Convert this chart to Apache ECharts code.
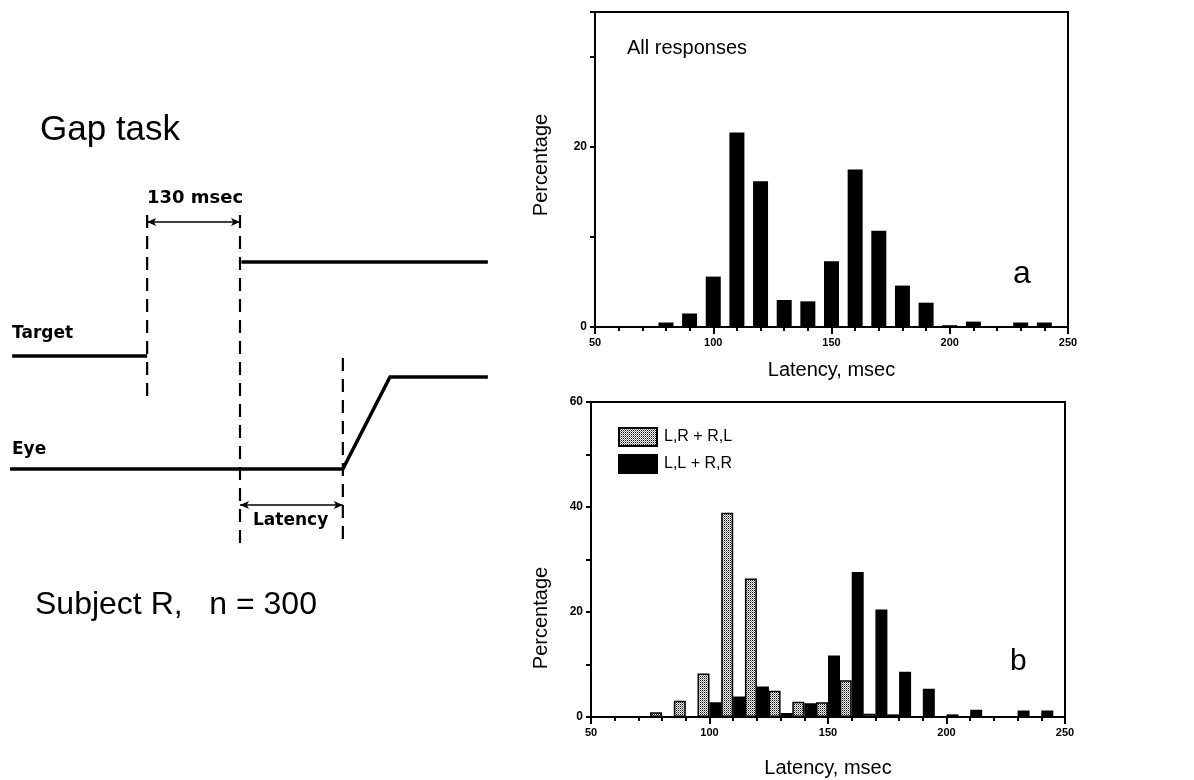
<!DOCTYPE html>
<html>
<head>
<meta charset="utf-8">
<script src="https://cdn.jsdelivr.net/npm/echarts@6/dist/echarts.min.js"></script>
<style>
html,body{margin:0;padding:0;background:#fff;}
#chart{width:1194px;height:780px;}
</style>
</head>
<body>
<div id="chart"></div>
<script>
// ---------- data ----------
const latencyBins = [80, 90, 100, 110, 120, 130, 140, 150, 160, 170, 180, 190, 200, 210, 220, 230, 240];
const allResponses = [0.5, 1.5, 5.6, 21.6, 16.2, 3.0, 2.85, 7.3, 17.5, 10.7, 4.6, 2.7, 0.2, 0.6, 0, 0.5, 0.5];
const crossedResponses = [0.9, 3.1, 8.3, 38.9, 26.4, 5.0, 2.9, 2.8, 7.0, 0.6, 0.5, 0, 0, 0, 0, 0, 0];
const uncrossedResponses = [0, 0, 2.8, 3.9, 5.8, 0.75, 2.6, 11.7, 27.6, 20.5, 8.6, 5.4, 0.5, 1.4, 0, 1.25, 1.25];
const seriesNames = ['L,R + R,L', 'L,L + R,R'];
const xTickLabels = [50, 100, 150, 200, 250];
const topYLabels = [0, 20];
const bottomYLabels = [0, 20, 40, 60];

// schematic (time in msec relative to fixation-off, position in arbitrary units)
const gapInterval = [0, 130];
const latencyInterval = [130, 274];
const targetOff = [[-189, 48.8], [0, 48.8]];
const targetOn = [[132, 67.6], [477, 67.6]];
const eyeTrace = [[-192, 26.2], [274, 26.2], [340, 44.6], [477, 44.6]];
const dashGapStart = [[0, 77], [0, 39.6]];
const dashTargetOn = [[130, 77], [130, 11]];
const dashSaccade = [[274, 48.4], [274, 10.6]];
const gapArrowLevel = 75.6;
const latencyArrowLevel = 19;

// ---------- pattern for stippled bars ----------
function makeStipple() {
  const c = document.createElement('canvas');
  c.width = 2; c.height = 2;
  const ctx = c.getContext('2d');
  ctx.fillStyle = '#f2f2f2';
  ctx.fillRect(0, 0, 2, 2);
  ctx.fillStyle = '#111';
  ctx.fillRect(0, 0, 1, 1);
  ctx.fillStyle = '#8a8a8a';
  ctx.fillRect(1, 1, 1, 1);
  return c;
}
const stipple = { image: makeStipple(), repeat: 'repeat' };

const FONT = '"Liberation Sans", Arial, sans-serif';
const BOLD = '"DejaVu Sans", sans-serif';

function xAxisCfg(gridIndex, gap) {
  return {
    type: 'value', gridIndex: gridIndex, min: 50, max: 250, interval: 50,
    name: 'Latency, msec', nameLocation: 'middle', nameGap: gap,
    nameTextStyle: { fontFamily: FONT, fontSize: 20, color: '#000' },
    axisLine: { show: true, onZero: false, lineStyle: { color: '#000', width: 2 } },
    axisTick: { show: true, length: 7, lineStyle: { color: '#000', width: 2 } },
    minorTick: { show: true, splitNumber: 5, length: 4, lineStyle: { color: '#000', width: 2 } },
    splitLine: { show: false },
    minorSplitLine: { show: false },
    axisLabel: {
      fontFamily: FONT, fontWeight: 'bold', fontSize: 11, color: '#000', margin: 10,
      formatter: v => xTickLabels.indexOf(v) >= 0 ? String(v) : ''
    }
  };
}
function yAxisCfg(gridIndex, max, labels) {
  return {
    type: 'value', gridIndex: gridIndex, min: 0, max: max, interval: 10,
    axisLine: { show: true, lineStyle: { color: '#000', width: 2 } },
    axisTick: { show: true, length: 5, lineStyle: { color: '#000', width: 2 } },
    splitLine: { show: false },
    axisLabel: {
      fontFamily: FONT, fontWeight: 'bold', fontSize: 12, color: '#000', margin: 8,
      formatter: v => labels.indexOf(v) >= 0 ? String(v) : ''
    }
  };
}

const chart = echarts.init(document.getElementById('chart'));
const option = {
  animation: false,
  backgroundColor: '#fff',
  grid: [
    { left: 595, top: 12, width: 473, height: 315, show: true, borderColor: '#000', borderWidth: 2, backgroundColor: 'transparent' },
    { left: 591, top: 402, width: 474, height: 315, show: true, borderColor: '#000', borderWidth: 2, backgroundColor: 'transparent' },
    { left: 0, top: 100, width: 500, height: 500, show: false }
  ],
  xAxis: [
    xAxisCfg(0, 33),
    xAxisCfg(1, 41),
    { type: 'value', gridIndex: 2, min: -206, max: 494, show: false, splitLine: { show: false } }
  ],
  yAxis: [
    yAxisCfg(0, 35, topYLabels),
    yAxisCfg(1, 60, bottomYLabels),
    { type: 'value', gridIndex: 2, min: 0, max: 100, show: false, splitLine: { show: false } }
  ],
  legend: {
    orient: 'vertical', left: 613, top: 422, itemWidth: 38, itemHeight: 18, itemGap: 7,
    icon: 'rect', data: seriesNames,
    textStyle: { fontFamily: FONT, fontSize: 16, color: '#000', padding: [0, 0, 0, 2] }
  },
  series: [
    {
      type: 'bar', xAxisIndex: 0, yAxisIndex: 0, name: 'All responses',
      barWidth: 15, itemStyle: { color: '#000' },
      data: latencyBins.map((b, i) => [b, allResponses[i]])
    },
    {
      type: 'bar', xAxisIndex: 1, yAxisIndex: 1, name: seriesNames[0],
      barWidth: 12, barGap: '0%',
      itemStyle: { color: stipple, borderColor: '#000', borderWidth: 1.5 },
      data: latencyBins.map((b, i) => [b, crossedResponses[i]])
    },
    {
      type: 'bar', xAxisIndex: 1, yAxisIndex: 1, name: seriesNames[1],
      barWidth: 12, barGap: '0%',
      itemStyle: { color: '#000', borderColor: '#000', borderWidth: 1.5 },
      data: latencyBins.map((b, i) => [b, uncrossedResponses[i]])
    },
    // schematic traces
    { type: 'line', xAxisIndex: 2, yAxisIndex: 2, silent: true, symbol: 'none',
      lineStyle: { color: '#000', width: 3.5, cap: 'butt' }, data: targetOff },
    { type: 'line', xAxisIndex: 2, yAxisIndex: 2, silent: true, symbol: 'none',
      lineStyle: { color: '#000', width: 3.5, cap: 'butt' }, data: targetOn },
    { type: 'line', xAxisIndex: 2, yAxisIndex: 2, silent: true, symbol: 'none',
      lineStyle: { color: '#000', width: 3.5, cap: 'butt', join: 'miter' }, data: eyeTrace },
    { type: 'line', xAxisIndex: 2, yAxisIndex: 2, silent: true, symbol: 'none',
      lineStyle: { color: '#000', width: 2.2, type: [13, 8] }, data: dashGapStart },
    { type: 'line', xAxisIndex: 2, yAxisIndex: 2, silent: true, symbol: 'none',
      lineStyle: { color: '#000', width: 2.2, type: [13, 8] }, data: dashTargetOn },
    { type: 'line', xAxisIndex: 2, yAxisIndex: 2, silent: true, symbol: 'none',
      lineStyle: { color: '#000', width: 2.2, type: [13, 8] }, data: dashSaccade,
      markLine: {
        silent: true, symbol: ['arrow', 'arrow'], symbolSize: [6, 9],
        lineStyle: { color: '#000', width: 1.5, type: 'solid' },
        label: { show: false },
        data: [
          [{ coord: [gapInterval[0], gapArrowLevel] }, { coord: [gapInterval[1], gapArrowLevel] }],
          [{ coord: [latencyInterval[0], latencyArrowLevel] }, { coord: [latencyInterval[1], latencyArrowLevel] }]
        ]
      }
    }
  ],
  graphic: [
    { type: 'text', x: 40, y: 130, style: { text: 'Gap task', font: '35px ' + FONT, fill: '#000', verticalAlign: 'middle' } },
    { type: 'text', x: 147, y: 198, style: { text: '130 msec', font: 'bold 18px ' + BOLD, fill: '#000', verticalAlign: 'middle' } },
    { type: 'text', x: 12, y: 334, style: { text: 'Target', font: 'bold 17px ' + BOLD, fill: '#000', verticalAlign: 'middle' } },
    { type: 'text', x: 12, y: 450, style: { text: 'Eye', font: 'bold 17px ' + BOLD, fill: '#000', verticalAlign: 'middle' } },
    { type: 'text', x: 253, y: 521, style: { text: 'Latency', font: 'bold 17px ' + BOLD, fill: '#000', verticalAlign: 'middle' } },
    { type: 'text', x: 35, y: 605, style: { text: 'Subject R,   n = 300', font: '32px ' + FONT, fill: '#000', verticalAlign: 'middle' } },
    { type: 'text', x: 627, y: 48, style: { text: 'All responses', font: '20px ' + FONT, fill: '#000', verticalAlign: 'middle' } },
    { type: 'text', x: 1013, y: 274, style: { text: 'a', font: '32px ' + FONT, fill: '#000', verticalAlign: 'middle' } },
    { type: 'text', x: 1010, y: 662, style: { text: 'b', font: '30px ' + FONT, fill: '#000', verticalAlign: 'middle' } },
    { type: 'text', x: 541, y: 165, rotation: Math.PI / 2, style: { text: 'Percentage', font: '20px ' + FONT, fill: '#000', align: 'center', verticalAlign: 'middle' } },
    { type: 'text', x: 541, y: 618, rotation: Math.PI / 2, style: { text: 'Percentage', font: '20px ' + FONT, fill: '#000', align: 'center', verticalAlign: 'middle' } }
  ]
};
chart.setOption(option);
</script>
</body>
</html>
